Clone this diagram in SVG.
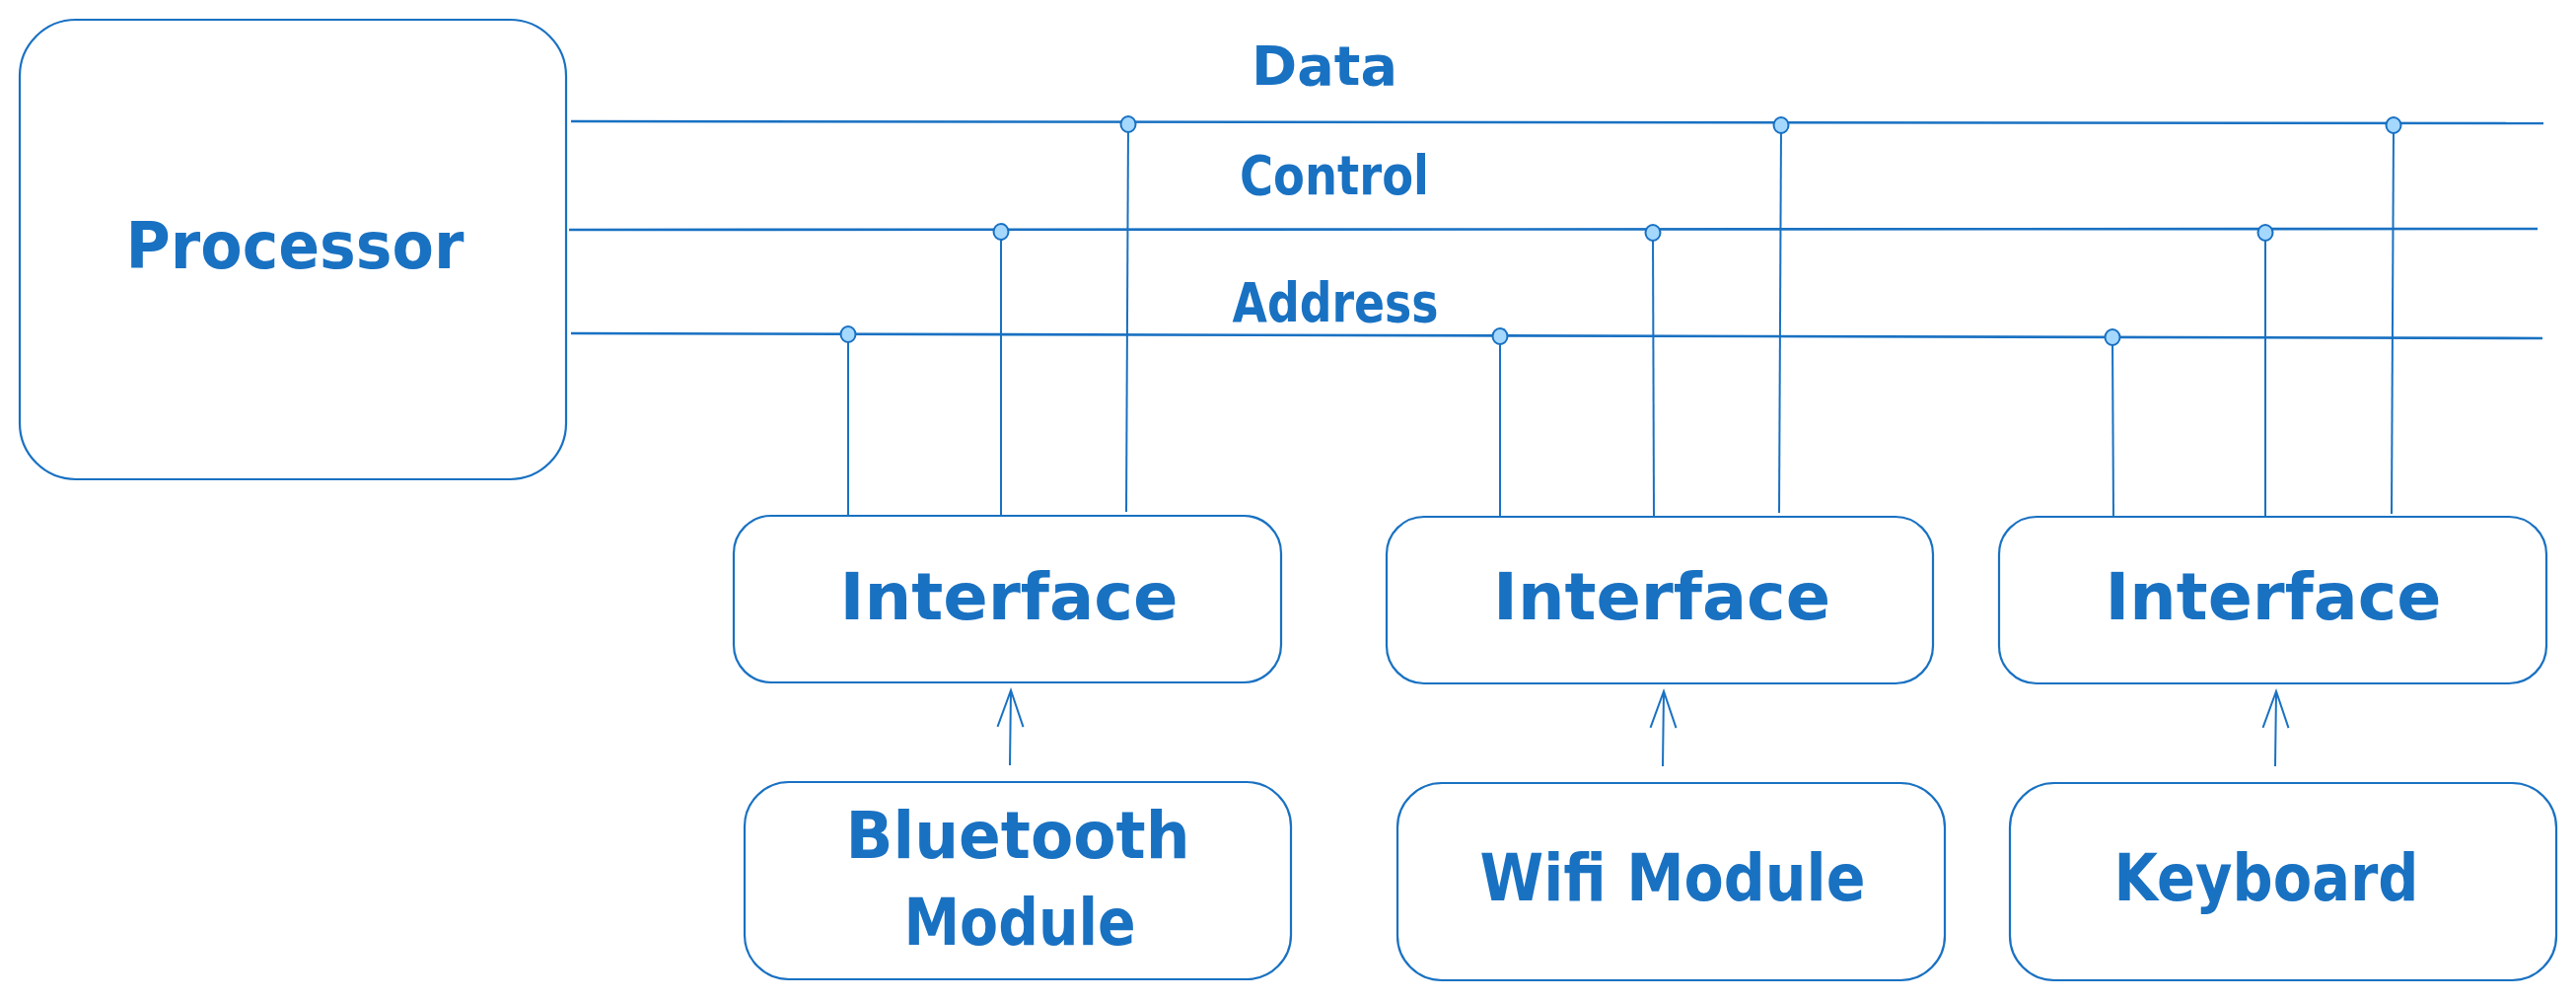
<svg xmlns="http://www.w3.org/2000/svg" width="2612" height="1014" viewBox="0 0 2612 1014">
<style>
.box{fill:#ffffff;stroke:#1971c2;stroke-width:2.2}
.bus{stroke:#1971c2;stroke-width:2.6;fill:none}
.tap{stroke:#1971c2;stroke-width:2;fill:none}
.dot{fill:#a5d8ff;stroke:#1971c2;stroke-width:2}
.arr{stroke:#1971c2;stroke-width:2;fill:none}
.t{fill:#1971c2;font-family:"DejaVu Sans","Liberation Sans",sans-serif;font-weight:bold;text-anchor:middle}
.big{font-size:66px}
.lbl{font-size:56px}
</style>
<defs>
<marker id="ah" markerUnits="userSpaceOnUse" markerWidth="50" markerHeight="40" refX="40" refY="20" orient="auto">
<path d="M3,7 L40,20 L3,33" fill="none" stroke="#1971c2" stroke-width="2"/>
</marker>
</defs>
<rect width="2612" height="1014" fill="#ffffff"/>

<g id="connectors">
<line class="bus" x1="579" y1="123" x2="2579" y2="125"/>
<line class="bus" x1="577" y1="233" x2="2573" y2="232"/>
<line class="bus" x1="579" y1="338" x2="2578" y2="343"/>
<line class="tap" x1="860" y1="340" x2="860" y2="525"/>
<line class="tap" x1="1015" y1="235" x2="1015" y2="522"/>
<line class="tap" x1="1144" y1="126" x2="1142" y2="519"/>
<line class="tap" x1="1521" y1="341" x2="1521" y2="526"/>
<line class="tap" x1="1676" y1="236" x2="1677" y2="524"/>
<line class="tap" x1="1806" y1="127" x2="1804" y2="520"/>
<line class="tap" x1="2142" y1="342" x2="2143" y2="527"/>
<line class="tap" x1="2297" y1="236" x2="2297" y2="524"/>
<line class="tap" x1="2427" y1="127" x2="2425" y2="521"/>
<ellipse class="dot" cx="1144" cy="126" rx="7.5" ry="8"/>
<ellipse class="dot" cx="1015" cy="235" rx="7.5" ry="8"/>
<ellipse class="dot" cx="860" cy="339" rx="7.5" ry="8"/>
<ellipse class="dot" cx="1806" cy="127" rx="7.5" ry="8"/>
<ellipse class="dot" cx="1676" cy="236" rx="7.5" ry="8"/>
<ellipse class="dot" cx="1521" cy="341" rx="7.5" ry="8"/>
<ellipse class="dot" cx="2427" cy="127" rx="7.5" ry="8"/>
<ellipse class="dot" cx="2297" cy="236" rx="7.5" ry="8"/>
<ellipse class="dot" cx="2142" cy="342" rx="7.5" ry="8"/>
<line class="arr" x1="1024" y1="776" x2="1025" y2="700" marker-end="url(#ah)"/>
<line class="arr" x1="1686" y1="777" x2="1687" y2="701" marker-end="url(#ah)"/>
<line class="arr" x1="2307" y1="777" x2="2308" y2="701" marker-end="url(#ah)"/>
<text class="t lbl" x="1343" y="86" textLength="148" lengthAdjust="spacingAndGlyphs">Data</text>
<text class="t lbl" x="1353" y="197" textLength="192" lengthAdjust="spacingAndGlyphs">Control</text>
<text class="t lbl" x="1354" y="326" textLength="209" lengthAdjust="spacingAndGlyphs">Address</text>
</g>

<g id="processor">
<rect class="box" x="20" y="20" width="554" height="466" rx="57" ry="57"/>
<text class="t big" x="299" y="272" textLength="343" lengthAdjust="spacingAndGlyphs">Processor</text>
</g>

<g id="interface1">
<rect class="box" x="744" y="523" width="555" height="169" rx="38" ry="38"/>
<text class="t big" x="1023" y="628" textLength="343" lengthAdjust="spacingAndGlyphs">Interface</text>
</g>
<g id="interface2">
<rect class="box" x="1406" y="524" width="554" height="169" rx="38" ry="38"/>
<text class="t big" x="1685" y="628" textLength="342" lengthAdjust="spacingAndGlyphs">Interface</text>
</g>
<g id="interface3">
<rect class="box" x="2027" y="524" width="555" height="169" rx="38" ry="38"/>
<text class="t big" x="2305" y="628" textLength="341" lengthAdjust="spacingAndGlyphs">Interface</text>
</g>

<g id="bluetooth">
<rect class="box" x="755" y="793" width="554" height="200" rx="45" ry="45"/>
<text class="t big" x="1032" y="870" textLength="349" lengthAdjust="spacingAndGlyphs">Bluetooth</text>
<text class="t big" x="1034" y="958" textLength="235" lengthAdjust="spacingAndGlyphs">Module</text>
</g>
<g id="wifi">
<rect class="box" x="1417" y="794" width="555" height="200" rx="45" ry="45"/>
<text class="t big" x="1696" y="913" textLength="391" lengthAdjust="spacingAndGlyphs">Wifi Module</text>
</g>
<g id="keyboard">
<rect class="box" x="2038" y="794" width="554" height="200" rx="45" ry="45"/>
<text class="t big" x="2298" y="913" textLength="309" lengthAdjust="spacingAndGlyphs">Keyboard</text>
</g>
</svg>
